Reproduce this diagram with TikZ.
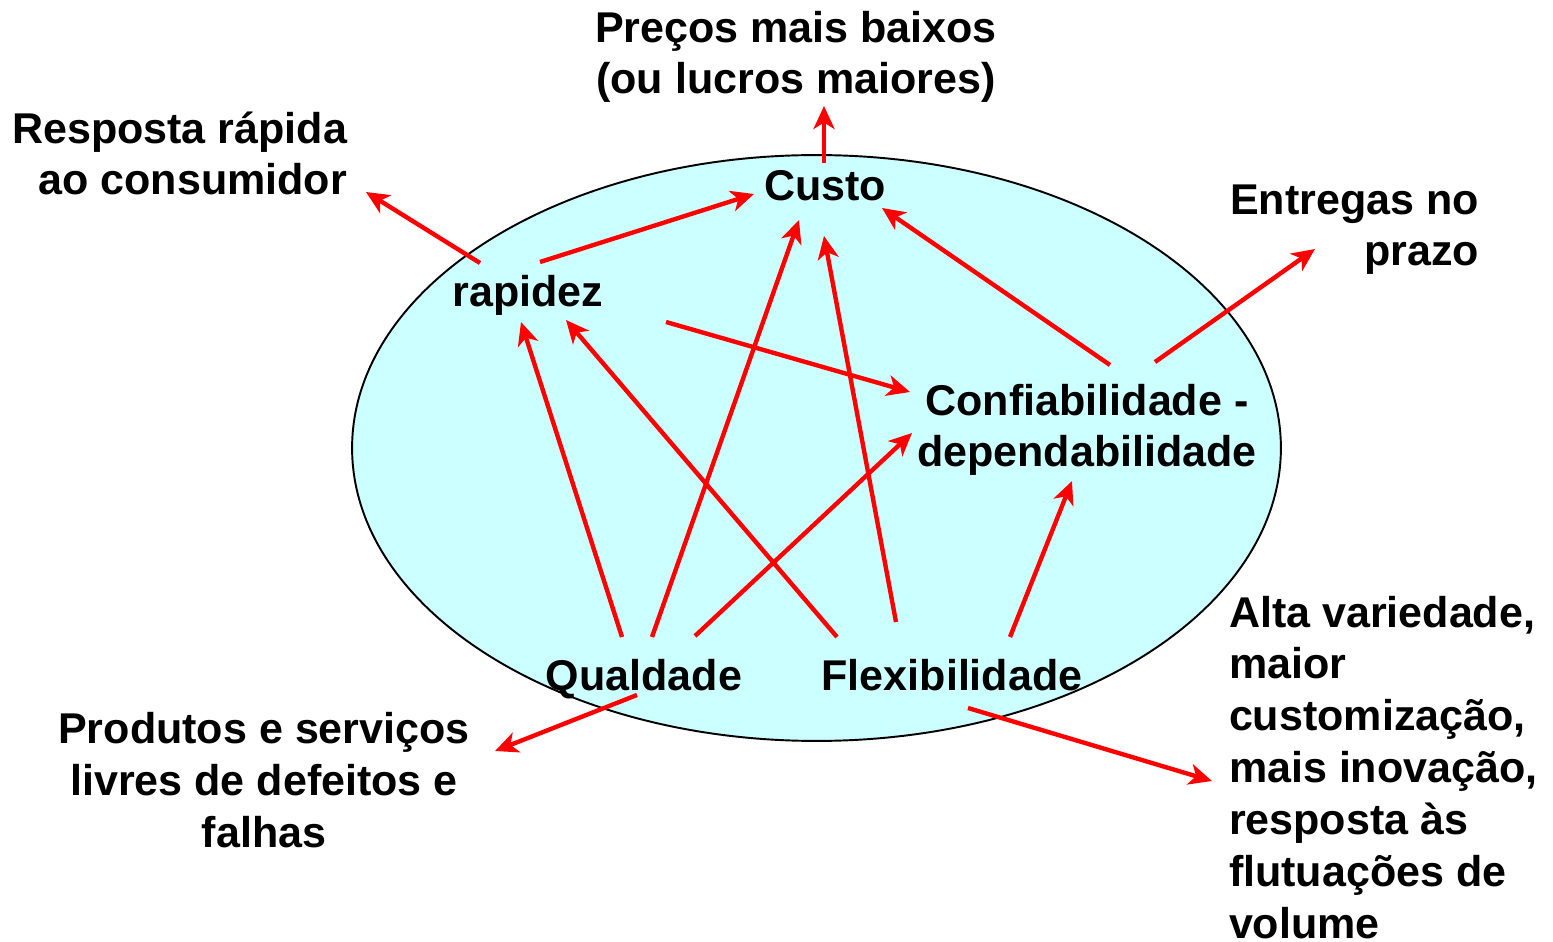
\documentclass[tikz,border=0pt]{standalone}
\usepackage{fontspec}
\setmainfont{Liberation Sans}
\usetikzlibrary{arrows.meta,shapes.geometric}
\definecolor{ellfill}{RGB}{204,255,255}
\definecolor{arrred}{RGB}{255,0,0}
\begin{document}
\begin{tikzpicture}[x=0.02cm,y=-0.02cm,
  lbl/.style={inner sep=0pt,outer sep=0pt,font=\fontsize{24.5}{29.5}\selectfont\bfseries},
  arr/.style={draw=arrred,line width=2.5pt,-{Stealth[length=0.46cm,width=0.42cm,inset=0.13cm]}},
]
\useasboundingbox (0,0) rectangle (1553,942);
\node[draw=black,line width=1.1pt,fill=ellfill,ellipse,minimum width=18.58cm,minimum height=11.72cm,inner sep=0pt] (ell) at (816.5,448) {};

% labels (base anchor = baseline of the last line)
\node[lbl,anchor=base,align=center] (precos) at (796,94) {Preços mais baixos\\(ou lucros maiores)};
\node[lbl,anchor=base east,align=right] (resposta) at (347,195) {Resposta rápida\\ao consumidor};
\node[lbl,anchor=base] (custo) at (825,201) {Custo};
\node[lbl,anchor=base east,align=right] (entregas) at (1479,266) {Entregas no\\prazo};
\node[lbl,anchor=base] (rapidez) at (528,307) {rapidez};
\node[lbl,anchor=base,align=center] (conf) at (1087,467) {Confiabilidade -\\dependabilidade};
\node[lbl,anchor=base] (qual) at (644,690) {Qualdade};
\node[lbl,anchor=base] (flex) at (952,690) {Flexibilidade};
\node[lbl,anchor=base,align=center] (produtos) at (264,847) {Produtos e serviços\\livres de defeitos e\\falhas};
\node[lbl,anchor=base west,align=left] (alta) at (1229,938) {Alta variedade,\\maior\\customização,\\mais inovação,\\resposta às\\flutuações de\\volume};

% connector endpoints
\coordinate (c1a) at (824,163); \coordinate (c1b) at (824,106);
\coordinate (c2a) at (480,263); \coordinate (c2b) at (366,192);
\coordinate (c3a) at (540,262); \coordinate (c3b) at (754,194);
\coordinate (c4a) at (1110,365); \coordinate (c4b) at (882,208);
\coordinate (c5a) at (1155,362); \coordinate (c5b) at (1315,249);
\coordinate (c6a) at (666,322); \coordinate (c6b) at (910,392);
\coordinate (c7a) at (622,637); \coordinate (c7b) at (521,322);
\coordinate (c8a) at (652,637); \coordinate (c8b) at (799,220);
\coordinate (c9a) at (695,636); \coordinate (c9b) at (912,433);
\coordinate (c10a) at (837,637); \coordinate (c10b) at (566,320);
\coordinate (c11a) at (896,622); \coordinate (c11b) at (824,236);
\coordinate (c12a) at (1010,637); \coordinate (c12b) at (1072,481);
\coordinate (c13a) at (637,695); \coordinate (c13b) at (495,751);
\coordinate (c14a) at (968,708); \coordinate (c14b) at (1212,781);

\foreach \i in {1,...,14} \draw[arr] (c\i a) -- (c\i b);
\end{tikzpicture}
\end{document}
